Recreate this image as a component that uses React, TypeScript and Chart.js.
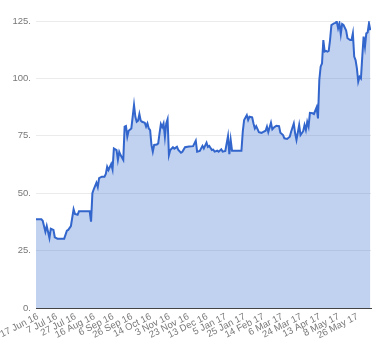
import { useEffect, useRef } from "react";
import { Chart, registerables } from "chart.js";

Chart.register(...registerables);

const tickLabels = [
  "17 Jun 16", "7 Jul 16", "27 Jul 16", "16 Aug 16", "6 Sep 16", "26 Sep 16",
  "14 Oct 16", "3 Nov 16", "23 Nov 16", "13 Dec 16", "5 Jan 17", "25 Jan 17",
  "14 Feb 17", "6 Mar 17", "24 Mar 17", "13 Apr 17", "8 May 17", "26 May 17",
];
const tickStep = 14;
const tickStart = 1.5;
const lastDay = 249.5;

const yTicks = [0, 25, 50, 75, 100, 125];

const days = [
  0, 4, 5, 7, 8, 10, 11, 13, 14, 16, 21, 23, 24, 26, 28, 29, 31, 32, 40, 41,
  42, 43, 45, 46, 47, 49, 51, 52, 53, 54, 56, 57, 58, 60, 61, 62, 63, 65, 66, 67,
  68, 69, 71, 73, 74, 75, 76, 77, 78, 79, 81, 82, 83, 84, 85, 86, 87, 88, 90, 91,
  92, 93, 94, 95, 96, 97, 98, 99, 100, 102, 103, 105, 106, 108, 109, 111, 114, 117, 119, 120,
  122, 124, 125, 127, 128, 129, 131, 132, 133, 135, 136, 138, 139, 141, 142, 143, 144, 145, 146, 153,
  154, 155, 157, 158, 159, 161, 162, 163, 164, 166, 168, 169, 171, 172, 173, 175, 176, 177, 179, 181,
  182, 184, 185, 187, 189, 190, 192, 193, 194, 196, 197, 199, 200, 201, 202, 203, 204, 206, 207, 209,
  210, 211, 212, 213, 214, 215, 216, 217, 218, 219, 220, 222, 223, 224, 225, 226, 227, 228, 229, 231,
  232, 234, 235, 236, 237, 238, 239, 240, 241, 242, 243, 244, 245, 246, 247, 248, 249,
];

const prices = [
  38.6, 38.6, 38.0, 33.2, 35.7, 30.5, 34.5, 34.0, 30.8, 30.2, 30.2, 33.7, 34.0, 35.7, 43.0, 41.0, 40.6, 42.1, 42.1, 37.6,
  50.0, 51.7, 54.6, 52.7, 56.6, 57.2, 57.2, 58.4, 61.5, 60.1, 62.7, 60.4, 69.5, 68.8, 64.5, 68.0, 66.6, 64.5, 79.0, 79.3,
  74.6, 77.2, 78.2, 88.4, 83.3, 81.1, 81.6, 84.5, 81.6, 81.1, 80.7, 79.0, 80.4, 78.2, 77.5, 71.0, 68.1, 71.0, 71.2, 71.7,
  76.1, 80.1, 78.8, 80.4, 74.6, 80.4, 82.2, 66.6, 68.8, 70.0, 69.4, 70.2, 68.8, 67.6, 68.0, 70.0, 70.3, 70.5, 72.9, 68.1,
  68.4, 70.6, 69.5, 72.0, 70.2, 70.6, 68.8, 69.0, 68.1, 68.5, 68.1, 69.1, 68.1, 68.4, 71.7, 74.9, 67.0, 73.2, 68.5, 68.5,
  76.8, 81.9, 84.0, 81.9, 83.3, 83.0, 80.4, 78.2, 79.2, 76.6, 76.3, 76.6, 77.2, 79.0, 76.6, 80.7, 77.8, 78.5, 79.4, 79.2,
  76.3, 75.3, 73.9, 73.6, 74.6, 76.8, 80.4, 76.1, 73.2, 79.7, 75.3, 77.0, 79.7, 77.5, 81.1, 79.0, 85.0, 84.8, 84.5, 87.4,
  82.6, 99.3, 105.1, 106.5, 116.7, 111.7, 112.0, 111.7, 112.0, 116.7, 123.2, 124.0, 124.2, 124.8, 121.8, 124.0, 119.3, 123.7, 123.3, 120.8,
  117.5, 116.7, 116.7, 119.6, 109.5, 108.0, 104.4, 98.6, 100.7, 100.0, 109.5, 118.2, 113.8, 119.6, 120.0, 124.0, 121.0,
];

export default function App() {
  const ref = useRef<HTMLCanvasElement | null>(null);

  useEffect(() => {
    document.body.style.margin = "0";
    const canvas = ref.current;
    if (!canvas) return;
    const font = { family: "'Liberation Sans', Arial, sans-serif", size: 9.5 };
    const chart = new Chart(canvas, {
      type: "line",
      data: {
        datasets: [
          {
            data: days.map((d, i) => ({ x: d, y: prices[i] })),
            borderColor: "#3366cc",
            backgroundColor: "rgba(51,102,204,0.3)",
            borderWidth: 2,
            pointRadius: 0,
            tension: 0,
            fill: "origin",
          },
        ],
      },
      options: {
        animation: false,
        responsive: false,
        devicePixelRatio: 1,
        layout: { padding: { top: 21, right: 9, left: 0, bottom: 0 } },
        plugins: { legend: { display: false }, tooltip: { enabled: false } },
        scales: {
          x: {
            type: "linear",
            min: 0,
            max: lastDay,
            afterBuildTicks: (scale: any) => {
              scale.ticks = tickLabels.map((_, k) => ({ value: tickStart + k * tickStep }));
            },
            afterFit: (scale: any) => {
              scale.height = 52;
            },
            grid: { display: false },
            border: { display: true, color: "#444", width: 1 },
            ticks: {
              autoSkip: false,
              maxRotation: 27,
              minRotation: 27,
              padding: -5,
              color: "#777",
              font,
              callback: (v: any) => {
                const k = Math.round((Number(v) - tickStart) / tickStep);
                return tickLabels[k] ?? "";
              },
            },
          },
          y: {
            min: yTicks[0],
            max: yTicks[yTicks.length - 1],
            afterBuildTicks: (scale: any) => {
              scale.ticks = yTicks.map((v) => ({ value: v }));
            },
            afterFit: (scale: any) => {
              scale.width = 36;
            },
            grid: { color: "#ebebeb", drawTicks: false },
            border: { display: false },
            ticks: {
              padding: 5,
              color: "#777",
              font,
              callback: (v: any) => `${v}.`,
            },
          },
        },
      },
    });
    return () => chart.destroy();
  }, []);

  return <canvas ref={ref} width={380} height={360} style={{ display: "block" }} />;
}
